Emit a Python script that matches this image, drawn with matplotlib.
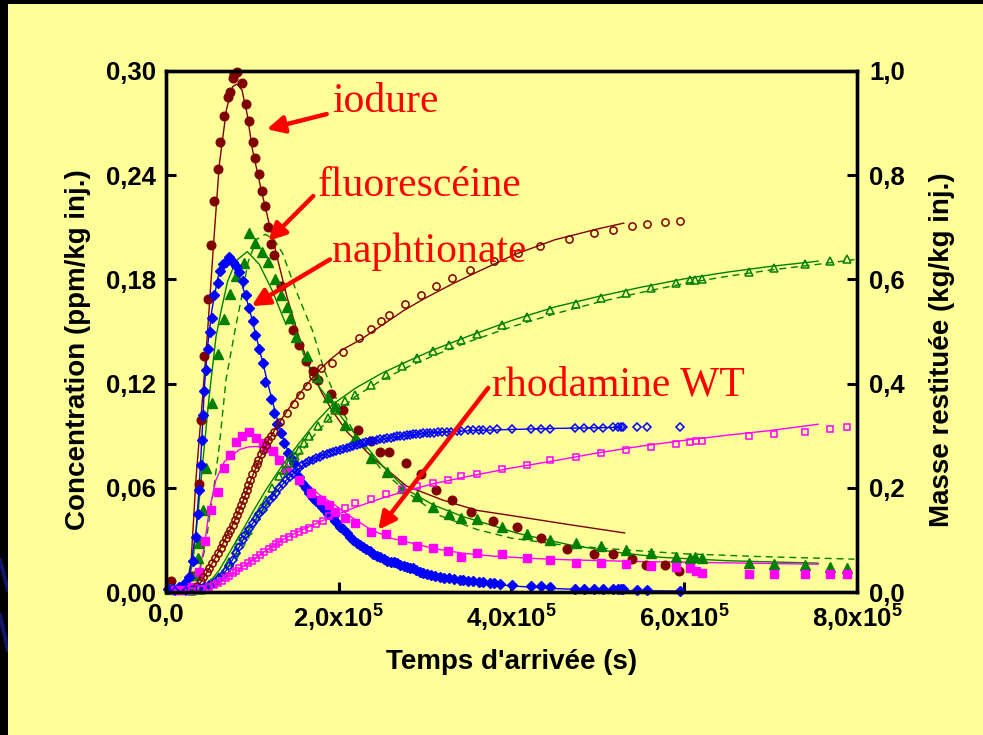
import matplotlib
matplotlib.use("Agg")
import matplotlib.pyplot as plt
from matplotlib.patches import Rectangle
from matplotlib.lines import Line2D

plt.rcParams["font.family"] = ["Liberation Sans", "DejaVu Sans"]
plt.rcParams["mathtext.fontset"] = "custom"
plt.rcParams["mathtext.rm"] = "Liberation Sans:bold"
plt.rcParams["mathtext.it"] = "Liberation Sans:bold"
plt.rcParams["mathtext.bf"] = "Liberation Sans:bold"

YELLOW = "#FFFF99"
BROWN = "#800000"
GREEN = "#008000"
BLUE = "#0000FF"
MAGENTA = "#FF00FF"

# temps en unités de 1e5 s
# ---- iodure : concentration (ppm/kg inj.) ----
t_iod = [0.054, 0.30, 0.378, 0.405, 0.443, 0.483, 0.52, 0.56, 0.60, 0.63, 0.667,
         0.714, 0.74, 0.77, 0.79, 0.818, 0.88, 0.926, 0.965, 1.003, 1.034, 1.073,
         1.111, 1.142, 1.184, 1.215, 1.254, 1.331, 1.474, 1.543, 1.62, 1.70, 1.76,
         1.91, 2.045, 2.226, 2.37, 2.477, 2.585, 2.774, 2.948, 3.125, 3.314, 3.527,
         3.79, 4.066, 4.337, 4.645, 4.95, 5.17, 5.39, 5.56, 5.78, 5.94]
c_iod = [0.0065, 0.009, 0.062, 0.099, 0.136, 0.169, 0.200, 0.225, 0.2435, 0.259, 0.274,
         0.285, 0.288, 0.296, 0.298, 0.2995, 0.293, 0.281, 0.271, 0.259, 0.250, 0.2406,
         0.231, 0.222, 0.210, 0.2006, 0.194, 0.176, 0.151, 0.142, 0.133, 0.127, 0.122,
         0.114, 0.105, 0.093, 0.087, 0.0806, 0.0806, 0.0743, 0.068, 0.0589, 0.0527, 0.0463,
         0.0406, 0.0373, 0.031, 0.0248, 0.0219, 0.0219, 0.0189, 0.0156, 0.0156, 0.0123]
t_iod_fit = [0.20, 0.23, 0.29, 0.347, 0.425, 0.483, 0.55, 0.617, 0.70, 0.772, 0.82,
             0.88, 0.94, 1.00, 1.10, 1.20, 1.30, 1.40, 1.52, 1.65, 1.80, 1.93, 2.10,
             2.40, 2.786, 3.20, 3.60, 4.00, 4.68, 5.31]
c_iod_fit = [0.000, 0.001, 0.017, 0.065, 0.113, 0.151, 0.200, 0.246, 0.278, 0.291, 0.2925,
             0.289, 0.275, 0.255, 0.232, 0.211, 0.190, 0.170, 0.150, 0.131, 0.115, 0.104, 0.092,
             0.077, 0.061, 0.053, 0.047, 0.044, 0.0387, 0.034]

# ---- iodure : masse restituée (kg/kg inj.) ----
t_iod_m = [0.30, 0.355, 0.40, 0.43, 0.47, 0.50, 0.535, 0.567, 0.60, 0.633, 0.665, 0.694,
           0.72, 0.74, 0.77, 0.80, 0.825, 0.849, 0.87, 0.895, 0.915, 0.934, 0.955, 0.972,
           1.00, 1.03, 1.05, 1.07, 1.10, 1.127, 1.155, 1.184, 1.215, 1.25, 1.32, 1.397,
           1.48, 1.55, 1.628, 1.70, 1.80, 1.92, 2.05, 2.23, 2.37, 2.485, 2.58, 2.77, 2.95,
           3.13, 3.31, 3.52, 3.80, 4.07, 4.33, 4.66, 4.95, 5.17, 5.39, 5.57, 5.78, 5.95]
m_iod = [0.004, 0.012, 0.022, 0.029, 0.038, 0.046, 0.055, 0.065, 0.074, 0.084, 0.094, 0.103,
         0.112, 0.119, 0.128, 0.138, 0.148, 0.158, 0.167, 0.177, 0.187, 0.196, 0.206, 0.215,
         0.227, 0.238, 0.246, 0.254, 0.264, 0.273, 0.283, 0.292, 0.300, 0.308, 0.326, 0.344,
         0.360, 0.378, 0.396, 0.414, 0.430, 0.440, 0.460, 0.487, 0.5056, 0.520, 0.5315, 0.552,
         0.571, 0.588, 0.603, 0.619, 0.636, 0.651, 0.664, 0.677, 0.689, 0.695, 0.703, 0.707,
         0.710, 0.713]
t_iod_m_fit = [0.30, 0.40, 0.50, 0.60, 0.70, 0.80, 0.90, 1.00, 1.10, 1.20, 1.30, 1.40, 1.50,
               1.60, 1.70, 1.80, 1.90, 2.05, 2.25, 2.50, 2.75, 3.00, 3.30, 3.60, 4.04, 4.50,
               5.00, 5.30]
m_iod_fit = [0.000, 0.018, 0.045, 0.075, 0.106, 0.139, 0.178, 0.222, 0.262, 0.295, 0.322,
             0.347, 0.370, 0.392, 0.412, 0.430, 0.446, 0.466, 0.484, 0.512, 0.540, 0.564,
             0.590, 0.614, 0.648, 0.676, 0.697, 0.708]

# ---- fluorescéine ----
t_flu = [0.05, 0.15, 0.25, 0.33, 0.367, 0.378, 0.425, 0.463, 0.532, 0.598, 0.671, 0.745,
         0.814, 0.899, 0.959, 1.03, 1.11, 1.18, 1.26, 1.33, 1.40, 1.44, 1.51, 1.63, 1.744,
         1.87, 1.956, 2.07, 2.19, 2.37, 2.554, 2.728, 2.909, 3.094, 3.28, 3.41, 3.596,
         3.885, 4.175, 4.45, 4.745, 5.035, 5.32, 5.61, 5.90, 6.065, 6.12, 6.20, 6.75,
         7.04, 7.40, 7.685, 7.885]
c_flu = [0.002, 0.002, 0.003, 0.010, 0.0194, 0.0281, 0.0473, 0.0714, 0.109, 0.137, 0.157,
         0.1715, 0.182, 0.1895, 0.207, 0.201, 0.1955, 0.190, 0.180, 0.171, 0.164, 0.158,
         0.147, 0.136, 0.124, 0.112, 0.107, 0.096, 0.0885, 0.0771, 0.069, 0.060, 0.055,
         0.049, 0.045, 0.0425, 0.042, 0.0373, 0.0335, 0.030, 0.0281, 0.0262, 0.0242,
         0.0223, 0.0204, 0.0194, 0.020, 0.0194, 0.0169, 0.0162, 0.0156, 0.0146, 0.014]
t_flu_fit = [0.23, 0.309, 0.367, 0.425, 0.50, 0.579, 0.637, 0.714, 0.81, 0.94, 1.08, 1.235,
             1.389, 1.435, 1.60, 1.744, 1.898, 2.10, 2.284, 2.50, 2.786, 3.10, 3.44, 3.80,
             4.06, 4.676, 5.20, 5.72, 6.50, 7.55]
c_flu_fit = [0.001, 0.0166, 0.0434, 0.0743, 0.1127, 0.147, 0.1617, 0.179, 0.1906, 0.196,
             0.1887, 0.173, 0.154, 0.159, 0.136, 0.120, 0.110, 0.096, 0.0858, 0.073, 0.0589,
             0.050, 0.0434, 0.038, 0.0339, 0.0271, 0.023, 0.020, 0.018, 0.0166]
t_flu_fit2 = [0.30, 0.367, 0.455, 0.54, 0.617, 0.694, 0.80, 0.888, 0.95, 1.05, 1.15, 1.25,
              1.35, 1.43, 1.51, 1.60, 1.70, 1.83, 2.00, 2.20, 2.50, 2.80, 3.17, 3.60, 4.00,
              4.60, 5.33, 6.00, 6.875, 7.97]
c_flu_fit2 = [0.001, 0.007, 0.026, 0.055, 0.084, 0.122, 0.151, 0.173, 0.190, 0.203, 0.206,
              0.203, 0.195, 0.184, 0.173, 0.162, 0.150, 0.128, 0.108, 0.090, 0.070, 0.057,
              0.044, 0.036, 0.031, 0.027, 0.0242, 0.022, 0.0204, 0.0189]

t_flu_m = [0.30, 0.40, 0.52, 0.617, 0.70, 0.733, 0.81, 0.849, 0.945, 1.04, 1.10, 1.157,
           1.23, 1.311, 1.37, 1.427, 1.49, 1.543, 1.60, 1.66, 1.756, 1.87, 1.956, 2.07,
           2.19, 2.37, 2.546, 2.728, 2.909, 3.094, 3.28, 3.41, 3.596, 3.885, 4.175, 4.45,
           4.745, 5.035, 5.32, 5.61, 5.90, 6.065, 6.12, 6.20, 6.75, 7.04, 7.40, 7.685, 7.885]
m_flu = [0.001, 0.004, 0.0167, 0.0294, 0.045, 0.0583, 0.081, 0.100, 0.119, 0.145, 0.162,
         0.177, 0.200, 0.2217, 0.235, 0.2475, 0.261, 0.273, 0.286, 0.2987, 0.318, 0.334,
         0.350, 0.366, 0.379, 0.398, 0.417, 0.434, 0.450, 0.462, 0.475, 0.483, 0.495,
         0.513, 0.527, 0.542, 0.552, 0.565, 0.574, 0.584, 0.593, 0.598, 0.599, 0.600,
         0.615, 0.622, 0.630, 0.636, 0.640]
t_flu_m_fit = [0.35, 0.46, 0.617, 0.75, 0.888, 1.02, 1.157, 1.35, 1.543, 1.73, 1.93, 2.2,
               2.5, 2.8, 3.1, 3.5, 4.0, 4.5, 5.0, 5.5, 6.0, 6.5, 7.0, 7.55]
m_flu_fit = [0.000, 0.010, 0.042, 0.080, 0.119, 0.158, 0.196, 0.244, 0.286, 0.325, 0.360,
             0.392, 0.420, 0.443, 0.465, 0.491, 0.521, 0.547, 0.567, 0.585, 0.601, 0.614,
             0.625, 0.635]
t_flu_m_fit2 = [0.45, 0.55, 0.70, 0.90, 1.10, 1.30, 1.50, 1.70, 1.90, 2.2, 2.5, 2.8, 3.1,
                3.5, 4.0, 4.5, 5.0, 5.5, 6.0, 6.5, 7.0, 7.55, 7.97]
m_flu_fit2 = [0.000, 0.005, 0.028, 0.088, 0.148, 0.205, 0.255, 0.298, 0.334, 0.376, 0.407,
              0.432, 0.454, 0.480, 0.509, 0.534, 0.556, 0.575, 0.592, 0.606, 0.618, 0.629,
              0.638]

# ---- naphtionate ----
t_nap = [0.02, 0.08, 0.154, 0.22, 0.27, 0.31, 0.347, 0.366, 0.386, 0.40, 0.417, 0.43, 0.443,
         0.46, 0.483, 0.51, 0.532, 0.56, 0.598, 0.625, 0.656, 0.69, 0.733, 0.77, 0.81,
         0.84, 0.888, 0.926, 0.965, 1.01, 1.034, 1.08, 1.119, 1.15, 1.215, 1.254, 1.29,
         1.331, 1.37, 1.408, 1.45, 1.485, 1.543, 1.58, 1.62, 1.66, 1.698, 1.735, 1.775,
         1.81, 1.844, 1.88, 1.93, 1.96, 2.014, 2.05, 2.09, 2.13, 2.17, 2.21, 2.25, 2.284,
         2.32, 2.36, 2.40, 2.44, 2.477, 2.52, 2.56, 2.60, 2.64, 2.67, 2.71, 2.75, 2.79,
         2.83, 2.86, 2.90, 2.94, 2.98, 3.02, 3.07, 3.12, 3.17, 3.22, 3.28, 3.34, 3.40,
         3.44, 3.50, 3.56, 3.62, 3.67, 3.75, 3.80, 3.866, 4.01, 4.22, 4.34, 4.44, 4.73,
         4.84, 4.95, 5.06, 5.17, 5.23, 5.27, 5.29, 5.45, 5.57, 5.95]
c_nap = [0.002, 0.002, 0.003, 0.005, 0.0088, 0.018, 0.0319, 0.045, 0.0589, 0.073, 0.0877,
         0.102, 0.1156, 0.128, 0.140, 0.150, 0.158, 0.171, 0.178, 0.185, 0.1887, 0.190,
         0.1929, 0.190, 0.1877, 0.184, 0.179, 0.171, 0.1637, 0.156, 0.148, 0.140, 0.132,
         0.121, 0.111, 0.103, 0.097, 0.0916, 0.086, 0.080, 0.077, 0.0743, 0.0665, 0.063,
         0.0598, 0.057, 0.054, 0.0525, 0.0512, 0.049, 0.0473, 0.045, 0.0434, 0.041, 0.0377,
         0.036, 0.034, 0.0319, 0.030, 0.0285, 0.027, 0.0261, 0.025, 0.0235, 0.022, 0.021,
         0.0204, 0.019, 0.018, 0.0175, 0.017, 0.0166, 0.0158, 0.015, 0.0145, 0.014, 0.0137,
         0.0125, 0.0115, 0.0108, 0.0103, 0.0098, 0.0093, 0.0088, 0.0083, 0.0078, 0.0074,
         0.0071, 0.0069, 0.0065, 0.0061, 0.0058, 0.0056, 0.0051, 0.0049, 0.0046, 0.004,
         0.0035, 0.0033, 0.0027, 0.002, 0.002, 0.002, 0.0018, 0.0018, 0.0017, 0.0017,
         0.0016, 0.0014, 0.0014, 0.0008]
t_nap_fit = [0.20, 0.27, 0.347, 0.386, 0.417, 0.443, 0.483, 0.53, 0.60, 0.65, 0.72, 0.80,
             0.88, 0.96, 1.03, 1.12, 1.22, 1.33, 1.45, 1.56, 1.70, 1.85, 2.00, 2.20, 2.50,
             2.80, 3.20, 3.60, 4.00, 4.50, 5.00, 6.00]
c_nap_fit = [0.000, 0.010, 0.035, 0.062, 0.090, 0.117, 0.142, 0.162, 0.181, 0.188, 0.190,
             0.186, 0.177, 0.164, 0.150, 0.132, 0.112, 0.092, 0.076, 0.064, 0.053, 0.044,
             0.037, 0.029, 0.020, 0.014, 0.0085, 0.0055, 0.0035, 0.002, 0.001, 0.0005]

t_nap_m = [0.10, 0.23, 0.30, 0.386, 0.44, 0.50, 0.55, 0.617, 0.65, 0.69, 0.733, 0.77, 0.81,
           0.85, 0.888, 0.92, 0.96, 1.003, 1.04, 1.08, 1.119, 1.16, 1.20, 1.235, 1.27, 1.31,
           1.35, 1.389, 1.43, 1.47, 1.51, 1.543, 1.58, 1.62, 1.66, 1.70, 1.736, 1.78, 1.82,
           1.86, 1.898, 1.93, 1.97, 2.01, 2.05, 2.09, 2.13, 2.17, 2.21, 2.25, 2.284, 2.32,
           2.36, 2.40, 2.44, 2.48, 2.52, 2.56, 2.60, 2.64, 2.67, 2.71, 2.75, 2.79, 2.83,
           2.86, 2.90, 2.94, 2.98, 3.02, 3.056, 3.10, 3.15, 3.20, 3.25, 3.30, 3.364, 3.42,
           3.50, 3.56, 3.62, 3.67, 3.75, 3.83, 4.01, 4.22, 4.34, 4.44, 4.73, 4.84, 4.95,
           5.06, 5.17, 5.23, 5.27, 5.29, 5.45, 5.57, 5.95]
m_nap = [0.001, 0.002, 0.004, 0.007, 0.010, 0.013, 0.018, 0.026, 0.031, 0.040, 0.049,
         0.061, 0.074, 0.087, 0.100, 0.110, 0.121, 0.132, 0.141, 0.150, 0.158, 0.167, 0.176,
         0.183, 0.190, 0.199, 0.207, 0.215, 0.221, 0.227, 0.233, 0.238, 0.243, 0.247, 0.251,
         0.254, 0.257, 0.260, 0.263, 0.265, 0.2675, 0.269, 0.271, 0.273, 0.275, 0.277,
         0.279, 0.281, 0.283, 0.285, 0.286, 0.287, 0.289, 0.290, 0.291, 0.293, 0.294,
         0.295, 0.296, 0.297, 0.2985, 0.299, 0.300, 0.301, 0.302, 0.303, 0.303, 0.304,
         0.305, 0.305, 0.306, 0.306, 0.307, 0.307, 0.308, 0.308, 0.309, 0.309, 0.310,
         0.310, 0.311, 0.311, 0.311, 0.312, 0.312, 0.313, 0.313, 0.313, 0.315, 0.315,
         0.315, 0.315, 0.316, 0.316, 0.316, 0.316, 0.316, 0.316, 0.316]
t_nap_m_fit = [0.25, 0.40, 0.50, 0.60, 0.70, 0.80, 0.90, 1.00, 1.10, 1.20, 1.30, 1.40, 1.50,
               1.60, 1.70, 1.80, 1.90, 2.00, 2.20, 2.40, 2.60, 2.80, 3.00, 3.30, 3.60, 4.00,
               4.50, 5.27]
m_nap_fit = [0.000, 0.006, 0.013, 0.024, 0.042, 0.071, 0.103, 0.131, 0.154, 0.176, 0.197,
             0.216, 0.231, 0.245, 0.254, 0.262, 0.268, 0.273, 0.282, 0.290, 0.296, 0.301,
             0.305, 0.308, 0.310, 0.312, 0.314, 0.316]

# ---- rhodamine WT ----
t_rho = [0.10, 0.20, 0.30, 0.386, 0.455, 0.52, 0.598, 0.675, 0.74, 0.81, 0.88, 0.965, 1.04,
         1.119, 1.157, 1.235, 1.311, 1.389, 1.543, 1.678, 1.794, 1.89, 1.956, 2.07, 2.19,
         2.37, 2.546, 2.728, 2.909, 3.094, 3.267, 3.41, 3.596, 3.885, 4.175, 4.45, 4.745,
         5.035, 5.32, 5.61, 5.90, 6.065, 6.134, 6.21, 6.75, 7.04, 7.40, 7.685, 7.885]
c_rho = [0.001, 0.001, 0.003, 0.0117, 0.0296, 0.0473, 0.0573, 0.0714, 0.079, 0.0861, 0.090,
         0.0919, 0.0887, 0.0858, 0.0829, 0.081, 0.0762, 0.0704, 0.0646, 0.057, 0.0531,
         0.0502, 0.0463, 0.0425, 0.040, 0.0348, 0.0335, 0.030, 0.0265, 0.0252, 0.0238,
         0.0204, 0.0227, 0.0217, 0.0194, 0.0185, 0.0169, 0.0166, 0.016, 0.015, 0.0146,
         0.0137, 0.0121, 0.0108, 0.0104, 0.0102, 0.0102, 0.0102, 0.0102]
t_rho_fit = [0.30, 0.35, 0.443, 0.50, 0.579, 0.675, 0.849, 0.95, 1.04, 1.157, 1.311, 1.43,
             1.543, 1.775, 1.93, 2.15, 2.37, 2.60, 2.86, 3.10, 3.44, 3.80, 4.21, 4.676,
             5.50, 6.50, 7.55]
c_rho_fit = [0.000, 0.004, 0.026, 0.047, 0.0646, 0.075, 0.082, 0.0835, 0.0838, 0.083, 0.078,
             0.072, 0.0665, 0.056, 0.051, 0.043, 0.036, 0.031, 0.028, 0.025, 0.0223, 0.0206,
             0.0194, 0.0185, 0.0175, 0.0168, 0.016]

t_rho_m = [0.30, 0.40, 0.50, 0.55, 0.598, 0.65, 0.694, 0.73, 0.772, 0.81, 0.849, 0.90,
           0.945, 0.99, 1.04, 1.09, 1.138, 1.19, 1.235, 1.27, 1.311, 1.37, 1.427, 1.48,
           1.543, 1.60, 1.659, 1.74, 1.814, 1.89, 1.956, 2.07, 2.19, 2.37, 2.546, 2.728,
           2.909, 3.094, 3.267, 3.41, 3.596, 3.885, 4.175, 4.45, 4.745, 5.035, 5.32, 5.61,
           5.90, 6.065, 6.134, 6.21, 6.75, 7.04, 7.40, 7.685, 7.885]
m_rho = [0.002, 0.005, 0.010, 0.013, 0.0167, 0.021, 0.0263, 0.031, 0.036, 0.041, 0.0456,
         0.050, 0.055, 0.060, 0.0648, 0.071, 0.0775, 0.082, 0.087, 0.092, 0.0967, 0.101,
         0.106, 0.111, 0.116, 0.119, 0.1225, 0.130, 0.137, 0.145, 0.152, 0.162, 0.170,
         0.179, 0.188, 0.1975, 0.204, 0.210, 0.215, 0.222, 0.226, 0.236, 0.244, 0.2525,
         0.259, 0.2667, 0.273, 0.279, 0.285, 0.288, 0.289, 0.290, 0.2987, 0.303, 0.308,
         0.313, 0.316]
t_rho_m_fit = [0.30, 0.40, 0.50, 0.60, 0.70, 0.80, 0.90, 1.00, 1.10, 1.20, 1.30, 1.40, 1.50,
               1.60, 1.80, 2.00, 2.20, 2.50, 2.80, 3.10, 3.50, 4.00, 4.50, 5.00, 5.50, 6.00,
               6.50, 7.00, 7.55]
m_rho_fit = [0.000, 0.004, 0.010, 0.018, 0.027, 0.038, 0.050, 0.061, 0.073, 0.084, 0.095,
             0.105, 0.113, 0.121, 0.136, 0.150, 0.163, 0.180, 0.195, 0.208, 0.222, 0.238,
             0.252, 0.267, 0.280, 0.291, 0.301, 0.310, 0.322]

x_ticks = [0, 2, 4, 6, 8]
x_tick_labels = ["0,0", r"2,0x10$^{5}$", r"4,0x10$^{5}$", r"6,0x10$^{5}$", r"8,0x10$^{5}$"]
c_ticks = [0.0, 0.06, 0.12, 0.18, 0.24, 0.30]
c_tick_labels = ["0,00", "0,06", "0,12", "0,18", "0,24", "0,30"]
m_ticks = [0.0, 0.2, 0.4, 0.6, 0.8, 1.0]
m_tick_labels = ["0,0", "0,2", "0,4", "0,6", "0,8", "1,0"]

W, H = 983, 735
fig = plt.figure(figsize=(W / 100, H / 100), dpi=100, facecolor="black")
fig.add_artist(Rectangle((8 / W, 0), 1, 1 - 4 / H, transform=fig.transFigure,
                         facecolor=YELLOW, edgecolor="none", zorder=-10))
# reflets bleus dans la bordure sombre, sous le panneau jaune
for y0, y1 in [(560, 590), (615, 650)]:
    fig.add_artist(Line2D([0, 8 / W], [1 - y0 / H, 1 - y1 / H], color="#141466",
                          lw=3, transform=fig.transFigure, zorder=-20))

ax = fig.add_axes([166 / W, 1 - 592 / H, 691 / W, 521 / H])
ax.set_facecolor("none")
ax2 = ax.twinx()

lw = 1.0
# concentrations (axe gauche)
ax.plot(t_iod_fit, c_iod_fit, color=BROWN, lw=lw)
ax.plot(t_flu_fit, c_flu_fit, color=GREEN, lw=lw)
ax.plot(t_flu_fit2, c_flu_fit2, color=GREEN, lw=lw, dashes=(5, 3.5))
ax.plot(t_nap_fit, c_nap_fit, color=BLUE, lw=lw)
ax.plot(t_rho_fit, c_rho_fit, color=MAGENTA, lw=lw)
ax.plot(t_iod, c_iod, "o", color=BROWN, ms=6.2, mec=BROWN, clip_on=False)
ax.plot(t_flu, c_flu, "^", color=GREEN, ms=6.8, mec=GREEN, clip_on=False)
ax.plot(t_nap, c_nap, "D", color=BLUE, ms=4.6, mec=BLUE, clip_on=False)
ax.plot(t_rho, c_rho, "s", color=MAGENTA, ms=5.4, mec=MAGENTA, clip_on=False)

# masses restituées (axe droit)
ax2.plot(t_iod_m_fit, m_iod_fit, color=BROWN, lw=lw)
ax2.plot(t_flu_m_fit, m_flu_fit, color=GREEN, lw=lw)
ax2.plot(t_flu_m_fit2, m_flu_fit2, color=GREEN, lw=lw, dashes=(5, 3.5))
ax2.plot(t_nap_m_fit, m_nap_fit, color=BLUE, lw=lw)
ax2.plot(t_rho_m_fit, m_rho_fit, color=MAGENTA, lw=lw)
ax2.plot(t_iod_m, m_iod, "o", mfc="none", mec=BROWN, ms=5.2, mew=1.1, clip_on=False)
ax2.plot(t_flu_m, m_flu, "^", mfc="none", mec=GREEN, ms=5.6, mew=1.1, clip_on=False)
ax2.plot(t_nap_m, m_nap, "D", mfc="none", mec=BLUE, ms=4.4, mew=1.1, clip_on=False)
ax2.plot(t_rho_m, m_rho, "s", mfc="none", mec=MAGENTA, ms=5.0, mew=1.1, clip_on=False)

ax.set_xlim(0, 8)
ax.set_ylim(0, 0.30)
ax2.set_ylim(0, 1.0)

tick_font = dict(fontsize=18.5, fontweight="bold")
ax.set_xticks(x_ticks)
ax.set_xticklabels(x_tick_labels, **tick_font)
ax.set_yticks(c_ticks)
ax.set_yticklabels(c_tick_labels, **tick_font)
ax2.set_yticks(m_ticks)
ax2.set_yticklabels(m_tick_labels, **tick_font)

ax.tick_params(axis="both", direction="in", length=7.5, width=2.2)
ax.tick_params(axis="x", pad=8, top=False)
ax.tick_params(axis="y", pad=7, right=False)
ax2.tick_params(axis="y", direction="in", length=7.5, width=2.2, pad=9)
for a in (ax, ax2):
    for sp in a.spines.values():
        sp.set_linewidth(2.4)

label_font = dict(fontsize=20, fontweight="bold")
ax.set_xlabel("Temps d'arrivée (s)", **label_font)
ax.xaxis.set_label_coords(0.5, -0.11)
ax.set_ylabel("Concentration (ppm/kg inj.)", **label_font)
ax.yaxis.set_label_coords(-0.1085, 0.465)
ax2.set_ylabel("Masse restituée (kg/kg inj.)", **label_font)
ax2.yaxis.set_label_coords(1.104, 0.465)

# étiquettes des traceurs
notes = [
    ("iodure", 1.92, 0.2821, (1.86, 0.2752), (1.166, 0.2665)),
    ("fluorescéine", 1.76, 0.2337, (1.705, 0.228), (1.184, 0.2021)),
    ("naphtionate", 1.92, 0.1960, (1.898, 0.1915), (0.992, 0.1646)),
    ("rhodamine WT", 3.77, 0.1188, (3.73, 0.1175), (2.457, 0.0358)),
]
for label, tx, ty, tail, tip in notes:
    ax2.text(tx, ty / 0.30, label, color="red", fontsize=30,
             family=["Liberation Serif", "DejaVu Serif"], ha="left", va="center")
    ax2.annotate("", xy=(tip[0], tip[1] / 0.30), xytext=(tail[0], tail[1] / 0.30),
                 arrowprops=dict(arrowstyle="-|>", color="red", lw=3.2,
                                 mutation_scale=26, shrinkA=0, shrinkB=0))

fig.savefig("out.png", dpi=100, facecolor=fig.get_facecolor())
